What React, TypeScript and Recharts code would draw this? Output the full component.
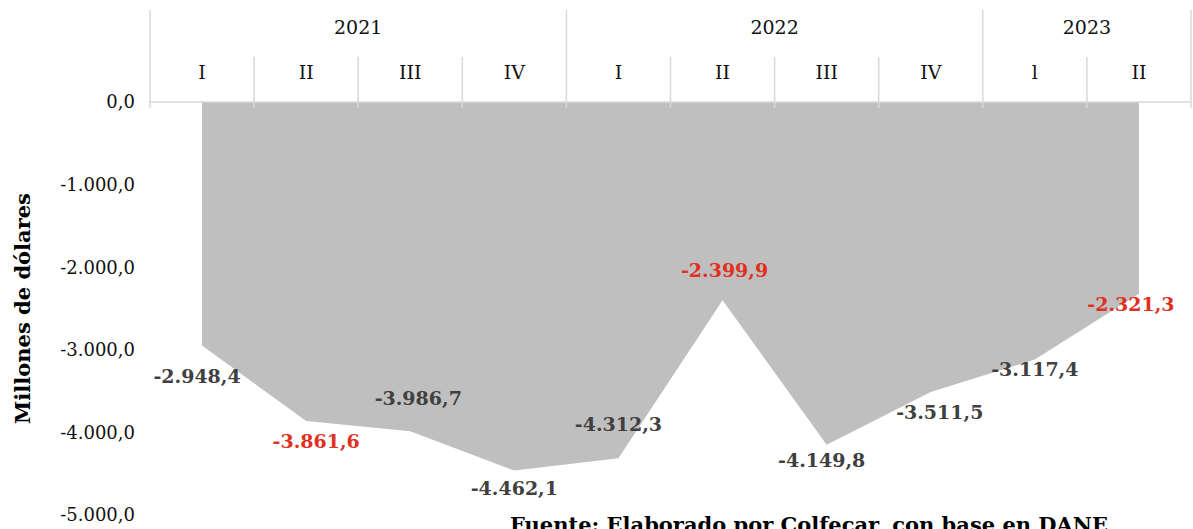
import { Area, AreaChart, LabelList, XAxis, YAxis } from 'recharts'

const years = ['2021', '2022', '2023']
const quartersPerYear = [4, 4, 2]
const quarters = ['I', 'II', 'III', 'IV', 'I', 'II', 'III', 'IV', 'l', 'II']
const balance = [-2948.4, -3861.6, -3986.7, -4462.1, -4312.3, -2399.9, -4149.8, -3511.5, -3117.4, -2321.3]
const yTicks = [0, -1000, -2000, -3000, -4000, -5000]

const data = quarters.map((quarter, i) => ({ pos: i + 0.5, quarter, value: balance[i] }))

// year boundaries / centres on the quarter index scale
const yearBounds = quartersPerYear.reduce((acc, n) => [...acc, acc[acc.length - 1] + n], [0])
const yearCentres = quartersPerYear.map((n, i) => yearBounds[i] + n / 2)
const xTicks = Array.from({ length: quarters.length * 2 + 1 }, (_, i) => i / 2)

// label nudges [dx, dy] relative to each point
const labelShift = [[-5, 30], [10, 20], [8, -33], [0, 17], [0, -34], [2, -30], [-5, 15], [9, 20], [0, 10], [-8, 10]]

const W = 1193
const H = 529
const TOP = 10
const AXIS_H = 92
const AXIS_Y = TOP + AXIS_H
const LINE = '#d9d9d9'
const FONT = 'DejaVu Serif'

function fmt(v: number) {
  const neg = v < 0
  const [int, dec] = Math.abs(v).toFixed(1).split('.')
  return (neg ? '-' : '') + int.replace(/\B(?=(\d{3})+(?!\d))/g, '.') + ',' + dec
}

function QuarterTick({ x, payload }: any) {
  const v = payload.value
  if (!Number.isInteger(v)) {
    return (
      <text x={x} y={AXIS_Y - 30} textAnchor="middle" dominantBaseline="central" fontSize={19} fill="#111">
        {quarters[Math.floor(v)]}
      </text>
    )
  }
  const tall = yearBounds.includes(v)
  const yi = yearCentres.indexOf(v)
  return (
    <g>
      <line x1={x} x2={x} y1={tall ? TOP : AXIS_Y - 45} y2={AXIS_Y + 6} stroke={LINE} strokeWidth={1.5} />
      {yi >= 0 && (
        <text x={x} y={TOP + 17} textAnchor="middle" dominantBaseline="central" fontSize={19} fill="#111">
          {years[yi]}
        </text>
      )}
    </g>
  )
}

function ValueLabel({ x, y, value, index }: any) {
  const [dx, dy] = labelShift[index]
  const red = quarters[index] === 'II'
  return (
    <text x={x + dx} y={y + dy} textAnchor="middle" dominantBaseline="central" fontSize={19} fontWeight="bold" fill={red ? '#e0301e' : '#404040'}>
      {fmt(value)}
    </text>
  )
}

function AxisTitle({ viewBox }: any) {
  const cy = viewBox.y + viewBox.height / 2
  return (
    <text x={22} y={cy} transform={`rotate(-90, 22, ${cy})`} textAnchor="middle" dominantBaseline="central" fontSize={21} fontWeight="bold" fill="#000">
      Millones de dólares
    </text>
  )
}

export default function App() {
  return (
    <div style={{ position: 'absolute', left: 0, top: 0, width: W, height: H, overflow: 'hidden', fontFamily: FONT, background: '#fff' }}>
      <AreaChart width={W} height={H} data={data} margin={{ top: TOP, right: 2, bottom: 14, left: 0 }}>
        <XAxis
          dataKey="pos"
          type="number"
          orientation="top"
          domain={[0, quarters.length]}
          ticks={xTicks}
          interval={0}
          height={AXIS_H}
          tickLine={false}
          axisLine={{ stroke: LINE, strokeWidth: 1.5 }}
          tick={<QuarterTick />}
        />
        <YAxis
          type="number"
          domain={[-5000, 0]}
          ticks={yTicks}
          interval={0}
          width={150}
          tickLine={false}
          axisLine={false}
          tickSize={0}
          tickMargin={15}
          tickFormatter={fmt}
          tick={{ fontSize: 18, fill: '#111' }}
          label={{ content: <AxisTitle /> }}
        />
        <Area type="linear" dataKey="value" baseValue={0} fill="#bfbfbf" fillOpacity={1} stroke="none" isAnimationActive={false}>
          <LabelList dataKey="value" content={<ValueLabel />} />
        </Area>
      </AreaChart>
      <div style={{ position: 'absolute', left: 510, top: 512, fontSize: 21, fontWeight: 'bold', color: '#000', whiteSpace: 'nowrap' }}>
        Fuente: Elaborado por Colfecar, con base en DANE
      </div>
    </div>
  )
}
